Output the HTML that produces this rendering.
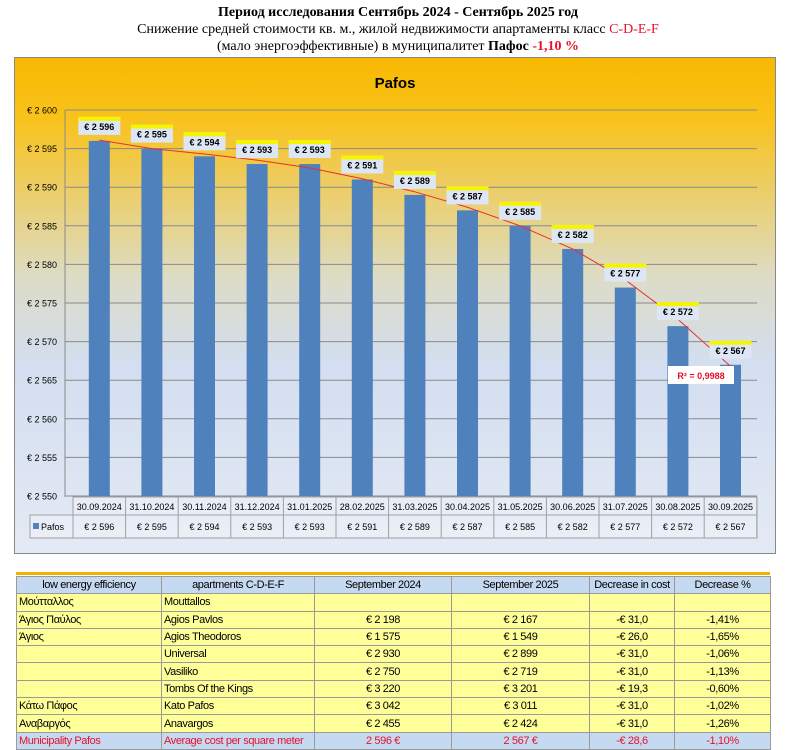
<!DOCTYPE html>
<html><head><meta charset="utf-8"><style>
body{margin:0;width:796px;height:750px;background:#fff;overflow:hidden;font-family:"Liberation Sans",sans-serif}
.t{position:absolute;left:0;width:796px;text-align:center;font-family:"Liberation Serif",serif;font-size:14px;line-height:16px;color:#000}
table{position:absolute;left:16px;top:576px;border-collapse:collapse;table-layout:fixed;font-family:"Liberation Sans",sans-serif;font-size:11px;letter-spacing:-0.4px}
td{height:16.3px;padding:0 2px;border:1px solid #9a9a9a;background:#ffff99;white-space:nowrap;overflow:hidden}
tr.h td{background:#c5d9f1;text-align:center}
tr.r td{background:#c5d9f1;color:#e8102a}
td.c{text-align:center}
</style></head><body>
<div class="t" style="top:5px;font-weight:bold">Период исследования Сентябрь 2024 - Сентябрь 2025 год</div>
<div class="t" style="top:22px">Снижение средней стоимости кв. м., жилой недвижимости апартаменты класс <span style="color:#e8102a">C-D-E-F</span></div>
<div class="t" style="top:39px">(мало энергоэффективные) в муниципалитет <b>Пафос</b> <b style="color:#e8102a">-1,10 %</b></div>
<svg id="s" style="position:absolute;left:0;top:0" width="796" height="575"></svg>
<div style="position:absolute;left:16px;top:572px;width:754px;height:3px;background:#f0b400"></div>
<table style="width:754px">
<colgroup><col style="width:145px"><col style="width:153px"><col style="width:137px"><col style="width:138px"><col style="width:85px"><col style="width:96px"></colgroup>
<tr class="h"><td>low energy efficiency</td><td>apartments C-D-E-F</td><td>September 2024</td><td>September 2025</td><td>Decrease in cost</td><td>Decrease %</td></tr>
<tr><td>Μούτταλλος</td><td>Mouttallos</td><td></td><td></td><td></td><td></td></tr>
<tr><td>Άγιος Παύλος</td><td>Agios Pavlos</td><td class="c">€ 2 198</td><td class="c">€ 2 167</td><td class="c">-€ 31,0</td><td class="c">-1,41%</td></tr>
<tr><td>Άγιος</td><td>Agios Theodoros</td><td class="c">€ 1 575</td><td class="c">€ 1 549</td><td class="c">-€ 26,0</td><td class="c">-1,65%</td></tr>
<tr><td></td><td>Universal</td><td class="c">€ 2 930</td><td class="c">€ 2 899</td><td class="c">-€ 31,0</td><td class="c">-1,06%</td></tr>
<tr><td></td><td>Vasiliko</td><td class="c">€ 2 750</td><td class="c">€ 2 719</td><td class="c">-€ 31,0</td><td class="c">-1,13%</td></tr>
<tr><td></td><td>Tombs Of the Kings</td><td class="c">€ 3 220</td><td class="c">€ 3 201</td><td class="c">-€ 19,3</td><td class="c">-0,60%</td></tr>
<tr><td>Κάτω Πάφος</td><td>Kato Pafos</td><td class="c">€ 3 042</td><td class="c">€ 3 011</td><td class="c">-€ 31,0</td><td class="c">-1,02%</td></tr>
<tr><td>Αναβαργός</td><td>Anavargos</td><td class="c">€ 2 455</td><td class="c">€ 2 424</td><td class="c">-€ 31,0</td><td class="c">-1,26%</td></tr>
<tr class="r"><td>Municipality Pafos</td><td>Average cost per square meter</td><td class="c">2 596 €</td><td class="c">2 567 €</td><td class="c">-€ 28,6</td><td class="c">-1,10%</td></tr>
</table>
<script>
var v=[2596,2595,2594,2593,2593,2591,2589,2587,2585,2582,2577,2572,2567];
var d=["30.09.2024","31.10.2024","30.11.2024","31.12.2024","31.01.2025","28.02.2025","31.03.2025","30.04.2025","31.05.2025","30.06.2025","31.07.2025","30.08.2025","30.09.2025"];
var tr=[2596.1,2595.0,2594.3,2593.5,2592.5,2591.1,2589.4,2587.4,2585.0,2582.0,2578.0,2572.9,2566.8];
function Y(x){return 110+(2600-x)*7.72}
var s='<defs><linearGradient id="g" x1="0" y1="0" x2="0" y2="1"><stop offset="0" stop-color="#f8b800"/><stop offset="0.12" stop-color="#f9c21a"/><stop offset="0.45" stop-color="#dcdcc8"/><stop offset="0.62" stop-color="#d3def0"/><stop offset="1" stop-color="#e4eaf5"/></linearGradient></defs>';
s+='<rect x="14.5" y="57.5" width="761" height="496" fill="url(#g)" stroke="#888"/>';
s+='<text x="395" y="88" text-anchor="middle" font-weight="bold" font-size="15" fill="#000">Pafos</text>';
for(var k=0;k<=10;k++){var val=2600-k*5,y=Y(val);s+='<line x1="65" x2="757" y1="'+y+'" y2="'+y+'" stroke="#8a8a8a" stroke-width="1"/>';s+='<text x="27" y="'+(y+3.5)+'" font-size="9" fill="#000">€ 2 '+(val-2000)+'</text>';}
s+='<line x1="65" x2="65" y1="110" y2="497" stroke="#8a8a8a"/>';
var x0=73,w=52.6;
for(var i=0;i<13;i++){var cx=x0+w*i+w/2,y=Y(v[i]);s+='<rect x="'+(cx-10.5)+'" y="'+y+'" width="21" height="'+(496-y)+'" fill="#4f81bd"/>';}
var p='';for(var i=0;i<13;i++){p+=(x0+w*i+w/2)+','+Y(tr[i])+' ';}
s+='<polyline points="'+p+'" fill="none" stroke="#e8302a" stroke-width="1"/>';
for(var i=0;i<13;i++){var cx=x0+w*i+w/2,y=Y(v[i])-24;s+='<rect x="'+(cx-21)+'" y="'+y+'" width="42" height="18" fill="#dde6f4"/><rect x="'+(cx-21)+'" y="'+y+'" width="42" height="4" fill="#f5f500"/><text x="'+cx+'" y="'+(y+13)+'" text-anchor="middle" font-size="9" font-weight="bold" fill="#000">€ 2 '+(v[i]-2000)+'</text>';}
s+='<rect x="668" y="366" width="66" height="18" fill="#fff"/><text x="701" y="379" text-anchor="middle" font-size="9" font-weight="bold" fill="#e8102a">R² = 0,9988</text>';
s+='<rect x="73" y="497" width="684" height="18" fill="#fff" fill-opacity="0.25" stroke="#a0a0a0"/><rect x="30" y="515" width="727" height="23" fill="#fff" fill-opacity="0.25" stroke="#a0a0a0"/>';
s+='<line x1="73" x2="73" y1="497" y2="538" stroke="#a0a0a0"/>';
s+='<rect x="33" y="523" width="6" height="6" fill="#4f81bd"/><text x="41" y="530" font-size="9" fill="#000">Pafos</text>';
for(var i=0;i<13;i++){var cx=x0+w*i+w/2;s+='<line x1="'+(x0+w*(i+1))+'" x2="'+(x0+w*(i+1))+'" y1="497" y2="538" stroke="#a0a0a0"/><text x="'+cx+'" y="510" text-anchor="middle" font-size="9" fill="#000">'+d[i]+'</text><text x="'+cx+'" y="530" text-anchor="middle" font-size="9" fill="#000">€ 2 '+(v[i]-2000)+'</text>';}
document.getElementById('s').innerHTML=s;
</script>
</body></html>
